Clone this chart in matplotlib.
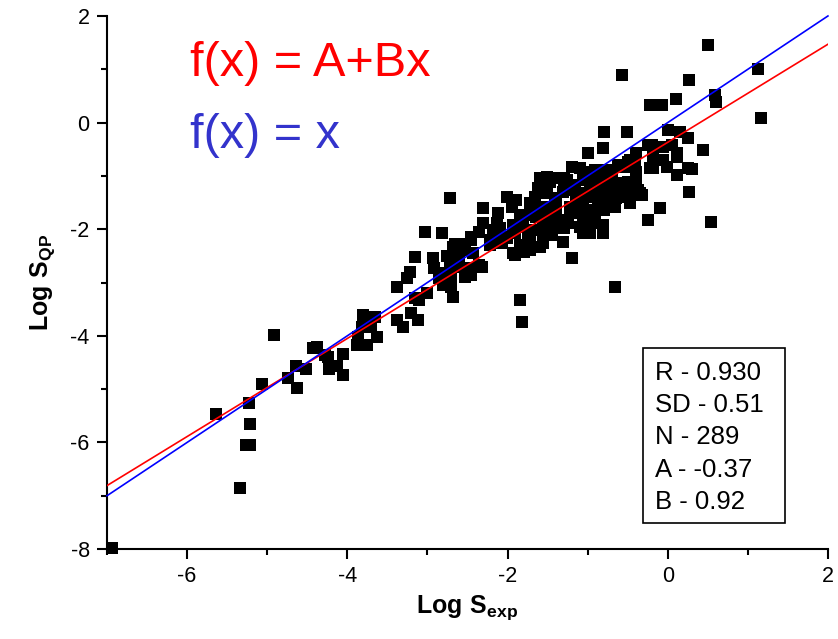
import matplotlib
matplotlib.use("Agg")
import matplotlib.pyplot as plt
from matplotlib.patches import Rectangle
from matplotlib.ticker import MultipleLocator

plt.rcParams['font.family'] = ['Liberation Sans', 'DejaVu Sans']
plt.rcParams['mathtext.fontset'] = 'custom'
plt.rcParams['mathtext.rm'] = 'Liberation Sans'
plt.rcParams['mathtext.bf'] = 'Liberation Sans:bold'
plt.rcParams['axes.unicode_minus'] = False

log_s_exp = [
    -6.94, -5.34, -5.64, -5.27, -5.22, -5.21, -5.23, -5.06, -4.92, -4.64,
    -4.74, -4.63, -4.52, -4.43, -4.38, -4.28, -4.24, -4.23, -4.13, -4.06,
    -4.06,
    -2.72, -2.30, -2.12, -3.03, -2.82, -2.30, -2.35, -2.66, -2.57, -2.45,
    -2.13, -3.15, -2.93, -2.75, -2.92, -3.22, -3.25, -3.38, -2.85, -2.70,
    -2.70, -2.68, -2.81, -2.60, -2.35, -2.32, -2.45, -3.15, -3.10, -3.00,
    -3.80, -3.65, -3.82, -3.70, -3.63, -3.87, -3.88, -3.76, -3.38, -3.31,
    -3.20, -3.12, -2.60, -2.51, -2.53, -2.68,
    -2.01, -1.89, -1.95, -1.60, -1.47, -1.62, -1.51, -1.37, -1.72, -1.64,
    -1.76, -1.64, -1.41, -2.46, -2.68, -2.53, -2.43, -2.16, -2.22, -2.07,
    -2.01, -1.91, -1.85, -1.91, -1.72, -1.60, -1.56, -1.75, -1.44, -1.41,
    -2.72, -2.78, -1.81, -1.93, -1.85,
    -0.79, -0.51, -0.81, -0.99, -1.19, -1.06, -0.62, -0.50, -0.39, -0.41,
    -0.39, -0.25, -0.22, -1.51, -1.47, -1.60, -1.29, -1.29, -1.19, -1.06,
    -0.95, -0.89, -0.79, -0.75, -0.91, -0.79, -0.66, -0.57, -0.50, -0.39,
    -0.37, -0.44, -1.39, -1.54, -1.39, -1.44, -1.14, -1.06, -1.12, -1.00,
    -0.87, -0.76, -0.64, -0.51, -0.47, -0.69, -0.54, -1.35, -1.25, -1.29,
    -1.06, -1.10, -0.94, -0.91, -0.81, -1.00, -1.31, -0.25, -1.56, -1.19,
    -1.32, -1.22, -1.12, -1.10, -1.26, -1.31, -1.16, -1.01, -0.91, -0.97,
    -1.10, -0.97, -0.85, -0.56, -0.60, -0.72, -1.22, -1.10, -1.01, -0.91,
    -0.85, -1.06, -0.97, -0.81, -0.35, -0.10, -1.56, -1.51, -2.18, -2.10,
    -2.22, -2.03, -1.75, -1.60, -1.72, -1.79, -1.93, -1.66, -1.57,
    -0.57, 0.27, -0.22, -0.07, 0.10, 0.00, 0.15, 0.25, -0.20, -0.06,
    0.05, 0.12, 0.11, -0.19, -0.06, -0.01, 0.11, -0.19, 0.25, -0.47,
    -0.44, -0.76, -0.81, -0.69, -0.66, -0.79, -0.81, 0.27, 0.50, 1.13,
    1.17, 0.59, 0.60, 0.44, 0.30, -0.32, 0.54,
    -1.85, -1.82, -0.66,
]
log_s_qp = [
    -7.98, -6.86, -5.47, -6.05, -6.05, -5.65, -5.26, -4.90, -3.98, -4.57,
    -4.79, -4.98, -4.62, -4.23, -4.21, -4.36, -4.40, -4.62, -4.57, -4.34,
    -4.74,
    -1.41, -1.60, -1.70, -2.05, -2.07, -1.88, -2.05, -2.28, -2.28, -2.20,
    -1.88, -2.52, -2.54, -2.50, -2.73, -2.80, -2.92, -3.08, -2.92, -2.92,
    -3.08, -3.27, -3.05, -2.71, -2.67, -2.71, -2.86, -3.29, -3.33, -3.20,
    -3.61, -3.65, -3.83, -3.83, -4.02, -4.02, -4.17, -4.17, -3.70, -3.83,
    -3.57, -3.70, -2.52, -2.73, -2.90, -2.45,
    -1.40, -1.45, -1.58, -1.04, -1.08, -1.23, -1.32, -1.04, -1.51, -1.58,
    -1.73, -1.77, -1.41, -2.15, -2.33, -2.39, -2.45, -2.17, -2.30, -2.26,
    -2.17, -2.07, -2.30, -2.48, -2.39, -2.33, -2.17, -2.15, -2.11, -1.96,
    -2.71, -2.82, -1.96, -1.92, -1.73,
    -0.18, -0.18, -0.48, -0.57, -0.83, -0.93, -0.80, -0.74, -0.57, -0.80,
    -0.93, -0.42, -0.85, -1.02, -1.11, -1.13, -1.04, -1.26, -1.17, -1.08,
    -1.11, -1.02, -0.93, -1.04, -1.26, -1.30, -1.23, -1.13, -1.11, -1.08,
    -1.26, -1.32, -1.45, -1.58, -1.64, -1.79, -1.41, -1.49, -1.68, -1.64,
    -1.58, -1.45, -1.41, -1.40, -1.51, -1.58, -1.32, -1.83, -1.88, -1.98,
    -1.86, -1.96, -1.70, -1.88, -1.96, -2.07, -2.24, -1.83, -2.26, -2.54,
    -1.88, -1.68, -1.51, -0.85, -1.08, -1.30, -1.21, -0.98, -0.89, -1.17,
    -1.32, -1.40, -1.40, -1.36, -0.83, -0.95, -1.58, -1.70, -1.88, -1.77,
    -1.58, -2.07, -2.07, -2.07, -1.32, -1.60, -1.83, -2.02, -2.02, -1.98,
    -2.20, -2.15, -2.02, -2.02, -2.24, -2.43, -2.45, -1.40, -1.60,
    0.89, 0.80, 0.33, 0.33, 0.44, -0.14, -0.18, -0.29, -0.42, -0.46,
    -0.42, -0.57, -0.65, -0.65, -0.70, -0.83, -0.98, -0.85, -0.85, -0.70,
    -0.83, -0.89, -1.13, -1.04, -1.58, -1.64, -1.92, -1.30, 1.46, 1.00,
    0.09, 0.52, 0.39, -0.51, -0.87, -1.36, -1.86,
    -3.33, -3.74, -3.08,
]

fit_A = -0.37
fit_B = 0.92
line_x = [-7.0, 2.0]

stats_lines = ["R - 0.930", "SD - 0.51", "N - 289", "A - -0.37", "B - 0.92"]

fig = plt.figure(figsize=(8.38, 6.39), dpi=100)
ax = fig.add_axes([0.1277, 0.1408, 0.8603, 0.8342])

ax.scatter(log_s_exp, log_s_qp, marker='s', s=64, color='black',
           linewidths=0, zorder=2, clip_on=False)
ax.plot(line_x, [fit_A + fit_B * v for v in line_x], color='#ff0000',
        lw=1.2, zorder=3)
ax.plot(line_x, line_x, color='#0000ff', lw=1.2, zorder=3, clip_on=False)

ax.set_xlim(-7, 2)
ax.set_ylim(-8, 2)
ax.xaxis.set_major_locator(MultipleLocator(2))
ax.xaxis.set_minor_locator(MultipleLocator(1))
ax.yaxis.set_major_locator(MultipleLocator(2))
ax.yaxis.set_minor_locator(MultipleLocator(1))

for s in ['top', 'right']:
    ax.spines[s].set_visible(False)
for s in ['left', 'bottom']:
    ax.spines[s].set_linewidth(1.5)

ax.tick_params(which='major', direction='out', length=7.5, width=1.5,
               labelsize=15.5, pad=5)
ax.tick_params(which='minor', direction='out', length=4, width=1.5)

ax.set_xlabel(r'$\mathbf{Log\ S_{exp}}$', fontsize=18, labelpad=4)
ax.set_ylabel(r'$\mathbf{Log\ S_{QP}}$', fontsize=18, labelpad=10)

ax.text(0.115, 0.910, 'f(x) = A+Bx', transform=ax.transAxes, color='#ff0000',
        fontsize=35, va='center', ha='left')
ax.text(0.115, 0.775, 'f(x) = x', transform=ax.transAxes, color='#3333cc',
        fontsize=35, va='center', ha='left')

ax.add_patch(Rectangle((0.743, 0.049), 0.197, 0.328, transform=ax.transAxes,
                       fill=False, edgecolor='black', lw=1.2, zorder=4))
ys = [0.330, 0.270, 0.210, 0.148, 0.088]
for t, yy in zip(stats_lines, ys):
    ax.text(0.760, yy, t, transform=ax.transAxes, fontsize=18.5,
            va='center', ha='left', zorder=5)

fig.savefig('out.png', dpi=100)
